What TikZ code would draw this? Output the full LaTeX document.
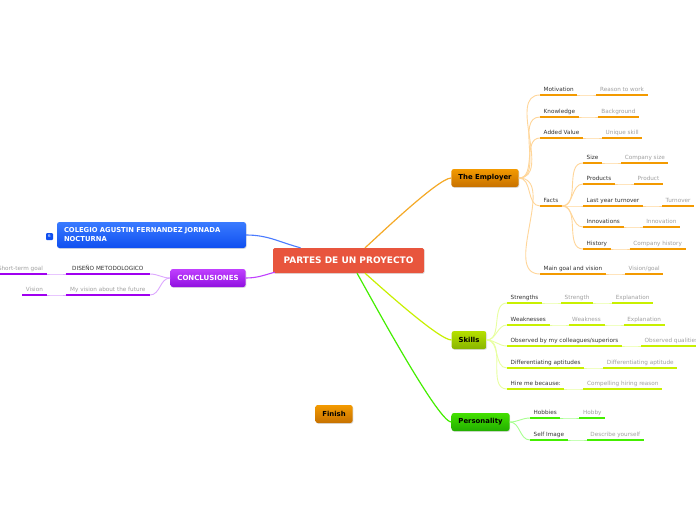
\documentclass[tikz,border=0pt]{standalone}
\usepackage{fontspec}
\setmainfont{DejaVu Sans}
\usetikzlibrary{positioning, shadows, calc}
\definecolor{RootRed}{HTML}{E8553D}
\definecolor{EmpOrange}{HTML}{F39A00}
\definecolor{EmpDark}{HTML}{C77100}
\definecolor{EmpLight}{HTML}{FFD699}
\definecolor{SkillLime}{HTML}{C8F000}
\definecolor{SkillTop}{HTML}{B5E000}
\definecolor{SkillDark}{HTML}{88B500}
\definecolor{SkillLight}{HTML}{E8FFA0}
\definecolor{PersGreen}{HTML}{44EE00}
\definecolor{PersTop}{HTML}{44E000}
\definecolor{PersDark}{HTML}{22AE00}
\definecolor{PersLight}{HTML}{A8FF90}
\definecolor{ConcPurple}{HTML}{A000F0}
\definecolor{ConcTop}{HTML}{C040FF}
\definecolor{ConcDark}{HTML}{9010E0}
\definecolor{ConcLight}{HTML}{DDA8FF}
\definecolor{SchoolTop}{HTML}{3A7BFF}
\definecolor{SchoolDark}{HTML}{0F4FF0}
\definecolor{SchoolLine}{HTML}{4A7BFF}
\definecolor{LeafDark}{HTML}{333333}
\definecolor{LeafGrey}{HTML}{A0A0A0}

\begin{document}
\begin{tikzpicture}[
        x=1pt, y=-1pt,
        shade/.style={drop shadow={opacity=0.25, shadow xshift=0.7pt, shadow yshift=-0.9pt}},
        root/.style={rectangle, rounded corners=1.5pt, minimum height=25pt, minimum width=151pt, inner xsep=8pt, fill=RootRed, text=white, font=\bfseries\fontsize{9}{10}\selectfont, shade},
        topic/.style={rectangle, rounded corners=2.5pt, minimum height=18pt, inner xsep=7pt, font=\bfseries\fontsize{6.9}{8}\selectfont, shade},
        orangebox/.style={topic, top color=EmpOrange, bottom color=EmpDark, text=black},
        leaf/.style={anchor=south west, inner xsep=3.5pt, inner ysep=2.5pt, text height=4.5pt, text depth=1pt, font=\fontsize{5.7}{7}\selectfont, text=LeafDark},
        note/.style={leaf, text=LeafGrey},
        uline/.style={append after command={(\tikzlastnode.south west) edge[draw=#1, line width=2.4pt] (\tikzlastnode.south east)}},
        eleaf/.style={leaf, uline=EmpOrange}, enote/.style={note, uline=EmpOrange},
        sleaf/.style={leaf, uline=SkillLime}, snote/.style={note, uline=SkillLime},
        pleaf/.style={leaf, uline=PersGreen}, pnote/.style={note, uline=PersGreen},
        cleaf/.style={leaf, anchor=south east, uline=ConcPurple}, cnote/.style={note, anchor=south east, uline=ConcPurple},
        ebranch/.style={draw=EmpLight, line width=0.9pt},
        sbranch/.style={draw=SkillLight, line width=0.9pt},
        pbranch/.style={draw=PersLight, line width=0.9pt},
        cbranch/.style={draw=ConcLight, line width=0.9pt}
    ]
        \useasboundingbox[fill=white] (0,0) rectangle (696,520);

        \node (root) [root] at (348.5,260.5) {PARTES DE UN PROYECTO};
        \node (emp) [orangebox] at (485,178) {The Employer};
        \node (skills) [topic, top color=SkillTop, bottom color=SkillDark] at (469,340) {Skills};
        \node (pers) [topic, top color=PersTop, bottom color=PersDark] at (480.5,422) {Personality};
        \node (finish) [orangebox] at (334,414) {Finish};
        \node (concl) [topic, top color=ConcTop, bottom color=ConcDark, text=white, font=\bfseries\fontsize{7}{8}\selectfont] at (208,278) {CONCLUSIONES};
        \node (school) [topic, top color=SchoolTop, bottom color=SchoolDark, text=white, minimum height=26pt, text width=175pt, align=left, font=\bfseries\fontsize{6.8}{9}\selectfont] at (151.5,235) {COLEGIO AGUSTIN FERNANDEZ JORNADA\\NOCTURNA};
        \node (badge) [rectangle, rounded corners=1pt, fill=SchoolDark, text=white, minimum size=7pt, inner sep=0pt, font=\fontsize{4}{4}\selectfont] at (49.5,236.5) {6};

        \node (mot) [eleaf] at (540,95) {Motivation};
        \node (motn) [enote, right=19pt of mot] {Reason to work};
        \node (know) [eleaf] at (540,117) {Knowledge};
        \node (known) [enote, right=19pt of know] {Background};
        \node (addv) [eleaf] at (540,138) {Added Value};
        \node (addvn) [enote, right=19pt of addv] {Unique skill};
        \node (facts) [eleaf] at (540,206) {Facts};
        \node (size) [eleaf] at (583,163) {Size};
        \node (sizen) [enote, right=19pt of size] {Company size};
        \node (prod) [eleaf] at (583,184) {Products};
        \node (prodn) [enote, right=19pt of prod] {Product};
        \node (turn) [eleaf] at (583,206) {Last year turnover};
        \node (turnn) [enote, right=19pt of turn] {Turnover};
        \node (innov) [eleaf] at (583,227) {Innovations};
        \node (innovn) [enote, right=19pt of innov] {Innovation};
        \node (hist) [eleaf] at (583,249) {History};
        \node (histn) [enote, right=19pt of hist] {Company history};
        \node (goal) [eleaf] at (540,274) {Main goal and vision};
        \node (goaln) [enote, right=19pt of goal] {Vision/goal};

        \node (str) [sleaf] at (507,303) {Strengths};
        \node (strn) [snote, right=19pt of str] {Strength};
        \node (strx) [snote, right=19pt of strn] {Explanation};
        \node (weak) [sleaf] at (507,325) {Weaknesses};
        \node (weakn) [snote, right=19pt of weak] {Weakness};
        \node (weakx) [snote, right=19pt of weakn] {Explanation};
        \node (obs) [sleaf] at (507,346) {Observed by my colleagues/superiors};
        \node (obsn) [snote, right=19pt of obs] {Observed qualities};
        \node (diff) [sleaf] at (507,368) {Differentiating aptitudes};
        \node (diffn) [snote, right=19pt of diff] {Differentiating aptitude};
        \node (hire) [sleaf] at (507,389) {Hire me because:};
        \node (hiren) [snote, right=19pt of hire] {Compelling hiring reason};

        \node (hob) [pleaf] at (530,418) {Hobbies};
        \node (hobn) [pnote, right=19pt of hob] {Hobby};
        \node (selfi) [pleaf] at (530,440) {Self Image};
        \node (selfin) [pnote, right=19pt of selfi] {Describe yourself};

        \node (dis) [cleaf, minimum width=84pt] at (150,274) {DISEÑO METODOLOGICO};
        \node (disn) [cnote, left=19pt of dis] {Short-term goal};
        \node (fut) [cnote, minimum width=84pt] at (150,295) {My vision about the future};
        \node (futn) [cnote, left=19pt of fut] {Vision};

        \draw [draw=EmpOrange!85, line width=1.2pt] ([xshift=16.5pt]root.north) to[out=41, in=180, looseness=0.3] (emp.west);
        \draw [draw=SkillLime, line width=1.2pt] ([xshift=16.5pt]root.south) to[out=-41, in=180, looseness=0.3] (skills.west);
        \draw [draw=PersGreen, line width=1.2pt] ([xshift=8.5pt]root.south) to[out=-59, in=180, looseness=0.2] (pers.west);
        \draw [draw=SchoolLine, line width=1.1pt] (school.east) to[out=0, in=165] ([xshift=-48pt]root.north);
        \draw [draw=ConcTop, line width=1.1pt] (concl.east) to[out=0, in=195] ([xshift=2pt, yshift=1pt]root.south west);

        \draw [ebranch] (emp.east) to[out=0, in=180] (mot.south west);
        \draw [ebranch] (emp.east) to[out=0, in=180] (know.south west);
        \draw [ebranch] (emp.east) to[out=0, in=180] (addv.south west);
        \draw [ebranch] (emp.east) to[out=0, in=180] (facts.south west);
        \draw [ebranch] (emp.east) to[out=0, in=180] (goal.south west);
        \draw [ebranch] (mot.south east) to[out=0, in=180] (motn.south west);
        \draw [ebranch] (know.south east) to[out=0, in=180] (known.south west);
        \draw [ebranch] (addv.south east) to[out=0, in=180] (addvn.south west);
        \draw [ebranch] (goal.south east) to[out=0, in=180] (goaln.south west);
        \draw [ebranch] (facts.south east) to[out=0, in=180] (size.south west);
        \draw [ebranch] (facts.south east) to[out=0, in=180] (prod.south west);
        \draw [ebranch] (facts.south east) to[out=0, in=180] (turn.south west);
        \draw [ebranch] (facts.south east) to[out=0, in=180] (innov.south west);
        \draw [ebranch] (facts.south east) to[out=0, in=180] (hist.south west);
        \draw [ebranch] (size.south east) to[out=0, in=180] (sizen.south west);
        \draw [ebranch] (prod.south east) to[out=0, in=180] (prodn.south west);
        \draw [ebranch] (turn.south east) to[out=0, in=180] (turnn.south west);
        \draw [ebranch] (innov.south east) to[out=0, in=180] (innovn.south west);
        \draw [ebranch] (hist.south east) to[out=0, in=180] (histn.south west);

        \draw [sbranch] (skills.east) to[out=0, in=180] (str.south west);
        \draw [sbranch] (skills.east) to[out=0, in=180] (weak.south west);
        \draw [sbranch] (skills.east) to[out=0, in=180] (obs.south west);
        \draw [sbranch] (skills.east) to[out=0, in=180] (diff.south west);
        \draw [sbranch] (skills.east) to[out=0, in=180] (hire.south west);
        \draw [sbranch] (str.south east) to[out=0, in=180] (strn.south west);
        \draw [sbranch] (strn.south east) to[out=0, in=180] (strx.south west);
        \draw [sbranch] (weak.south east) to[out=0, in=180] (weakn.south west);
        \draw [sbranch] (weakn.south east) to[out=0, in=180] (weakx.south west);
        \draw [sbranch] (obs.south east) to[out=0, in=180] (obsn.south west);
        \draw [sbranch] (diff.south east) to[out=0, in=180] (diffn.south west);
        \draw [sbranch] (hire.south east) to[out=0, in=180] (hiren.south west);

        \draw [pbranch] (pers.east) to[out=0, in=180] (hob.south west);
        \draw [pbranch] (pers.east) to[out=0, in=180] (selfi.south west);
        \draw [pbranch] (hob.south east) to[out=0, in=180] (hobn.south west);
        \draw [pbranch] (selfi.south east) to[out=0, in=180] (selfin.south west);

        \draw [cbranch] (concl.west) to[out=180, in=0] (dis.south east);
        \draw [cbranch] (concl.west) to[out=180, in=0] (fut.south east);
        \draw [cbranch] (dis.south west) to[out=180, in=0] (disn.south east);
        \draw [cbranch] (fut.south west) to[out=180, in=0] (futn.south east);
    \end{tikzpicture}
\end{document}
